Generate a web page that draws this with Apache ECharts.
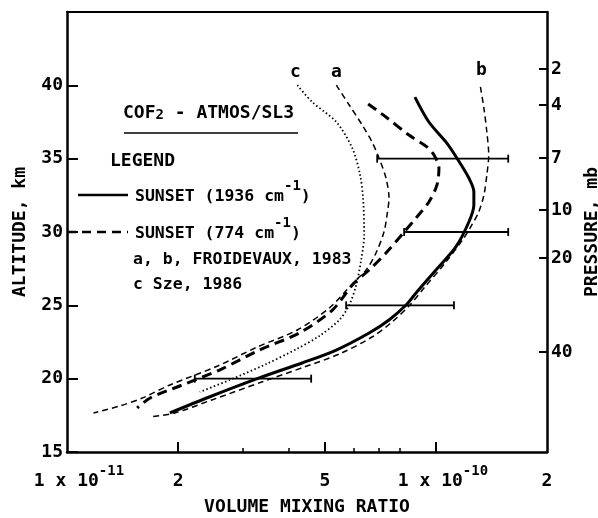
<!DOCTYPE html>
<html>
<head>
<meta charset="utf-8">
<script src="https://cdn.jsdelivr.net/npm/echarts@6/dist/echarts.min.js"></script>
<style>
  html, body { margin: 0; padding: 0; background: #fff; }
  #main { width: 598px; height: 518px; }
</style>
</head>
<body>
<div id="main"></div>
<script>
// mixing ratio in units of 1e-11, altitude in km
var sunset1936 = [[8.77,39.2],[9.57,37.5],[10.64,36.14],[11.39,35.05],[12.28,33.68],[12.67,32.73],[12.67,31.84],[12.28,30.68],[11.32,28.98],[10.0,27.41],[8.83,25.84],[8.30,25.02],[7.46,24.0],[6.59,23.11],[5.37,21.95],[4.34,21.07],[3.32,20.05],[2.43,18.75],[1.90,17.66]];
var sunset774 = [[6.55,38.73],[7.32,37.84],[8.45,36.61],[9.45,35.8],[9.88,35.25],[10.19,34.36],[10.06,33.2],[9.57,32.05],[8.83,30.95],[8.20,30.0],[7.32,28.57],[6.59,27.41],[6.0,26.52],[5.24,24.68],[4.26,23.11],[3.32,21.95],[2.59,20.59],[2.02,19.5],[1.68,18.68],[1.55,18.0]];
var froidA = [[5.37,40.02],[5.82,38.66],[6.31,37.3],[6.71,36.14],[7.01,35.05],[7.32,33.68],[7.46,32.32],[7.37,31.16],[7.23,30.0],[6.88,28.57],[6.47,27.41],[6.0,26.59],[5.14,24.82],[4.21,23.32],[3.28,22.16],[2.56,20.86],[1.90,19.57],[1.60,18.68],[1.39,18.14],[1.18,17.66]];
var froidB = [[13.2,39.89],[13.49,38.45],[13.74,36.82],[13.9,35.25],[13.74,33.89],[13.49,32.52],[13.06,31.36],[12.51,30.48],[11.9,29.59],[10.64,27.95],[9.28,26.18],[8.45,24.95],[7.60,23.86],[6.71,22.84],[5.47,21.68],[4.40,20.8],[3.37,19.77],[2.47,18.55],[1.96,17.66],[1.68,17.39]];
var szeC = [[4.21,40.02],[4.62,38.86],[5.37,37.5],[5.93,35.73],[6.23,33.89],[6.35,32.18],[6.39,29.8],[6.27,28.09],[6.08,26.39],[5.82,25.02],[5.47,24.0],[4.83,22.91],[4.19,22.02],[3.47,21.0],[2.76,19.91],[2.29,19.09]];

var errAlt = [20, 25, 30, 35];
var errLow = [2.22, 5.71, 8.20, 6.93];
var errHigh = [4.59, 11.19, 15.7, 15.7];

var xMajor = [2, 5, 10];
var xMinor = [3, 4, 6, 7, 8];
var xLabels = [1, 2, 5, 10, 20];
var altTicks = [15, 20, 25, 30, 35, 40];
var pressureLabels = ['2', '4', '7', '10', '20', '40'];
var pressureAlt = [41.11, 38.66, 35.05, 31.5, 28.23, 21.82];

var FONT = 'DejaVu Sans Mono';

function lg(arr) { return arr.map(function(v) { return Math.log10(v); }); }
function toXY(pts) { return pts.map(function(p) { return [Math.log10(p[0]), p[1]]; }); }

var myChart = echarts.init(document.getElementById('main'));

function lineSeries(name, pts, width, dash) {
  return {
    name: name,
    type: 'line',
    data: toXY(pts),
    smooth: 0.3,
    showSymbol: false,
    xAxisIndex: 0,
    yAxisIndex: 0,
    lineStyle: { color: '#000', width: width, type: dash },
    z: 5
  };
}

var errData = errAlt.map(function(a, i) { return [a, Math.log10(errLow[i]), Math.log10(errHigh[i])]; });

var txt = { fontFamily: FONT, fontWeight: 'bold', fill: '#000' };
function label(x, y, text, size) {
  return {
    type: 'text', left: x, top: y,
    style: Object.assign({ text: text, fontSize: size }, txt)
  };
}
var supRich = {
  n: { fontFamily: FONT, fontWeight: 'bold', fontSize: 18, lineHeight: 26, verticalAlign: 'bottom' },
  m: { fontFamily: FONT, fontWeight: 'bold', fontSize: 16.5, lineHeight: 26, verticalAlign: 'bottom' },
  s: { fontFamily: FONT, fontWeight: 'bold', fontSize: 14, lineHeight: 14, verticalAlign: 'top' },
  b: { fontFamily: FONT, fontWeight: 'bold', fontSize: 14, lineHeight: 14, verticalAlign: 'bottom' },
  p1: { width: 24 },
  p2: { width: 14 }
};

var frame = { onZero: false, lineStyle: { color: '#000', width: 2.5 } };

option = {
  animation: false,
  backgroundColor: '#fff',
  grid: { left: 67, right: 51, top: 12, bottom: 66, outerBoundsMode: 'none', containLabel: false },
  textStyle: { fontFamily: FONT, fontWeight: 'bold', color: '#000' },
  xAxis: [
    {
      type: 'value', min: 0, max: Math.log10(20), position: 'bottom',
      name: 'VOLUME MIXING RATIO', nameLocation: 'middle', nameGap: 46,
      nameTextStyle: { fontFamily: FONT, fontWeight: 'bold', fontSize: 18, color: '#000' },
      axisLine: frame,
      axisTick: { inside: true, length: 10, customValues: lg(xMajor), lineStyle: { color: '#000', width: 2 } },
      axisLabel: {
        customValues: lg(xLabels), margin: 12, color: '#000',
        formatter: function(v) {
          var n = Math.round(Math.pow(10, v));
          if (n === 1) return '{p1|}{n|1 x 10}{s|-11}';
          if (n === 10) return '{p2|}{n|1 x 10}{s|-10}';
          if (n === 20) return '{n|2}';
          return '{n|' + n + '}';
        },
        rich: supRich
      },
      splitLine: { show: false }
    },
    {
      type: 'value', min: 0, max: Math.log10(20), position: 'bottom',
      axisLine: { show: false, onZero: false },
      axisTick: { inside: true, length: 4, customValues: lg(xMinor), lineStyle: { color: '#000', width: 1.5 } },
      axisLabel: { show: false },
      splitLine: { show: false }
    },
    {
      type: 'value', min: 0, max: Math.log10(20), position: 'top',
      axisLine: { onZero: false, lineStyle: { color: '#000', width: 2 } },
      axisTick: { show: false }, axisLabel: { show: false }, splitLine: { show: false }
    }
  ],
  yAxis: [
    {
      type: 'value', min: 15, max: 45, position: 'left',
      name: 'ALTITUDE, km', nameLocation: 'middle', nameRotate: 90, nameGap: 38,
      nameTextStyle: { fontFamily: FONT, fontWeight: 'bold', fontSize: 18, color: '#000' },
      axisLine: frame,
      axisTick: { inside: true, length: 11, customValues: altTicks, lineStyle: { color: '#000', width: 2 } },
      axisLabel: { customValues: altTicks, margin: 4, color: '#000', fontFamily: FONT, fontWeight: 'bold', fontSize: 18 },
      splitLine: { show: false }
    },
    {
      type: 'value', min: 15, max: 45, position: 'right',
      name: 'PRESSURE, mb', nameLocation: 'middle', nameRotate: 90, nameGap: 27,
      nameTextStyle: { fontFamily: FONT, fontWeight: 'bold', fontSize: 18, color: '#000' },
      axisLine: frame,
      axisTick: { inside: true, length: 8, customValues: pressureAlt, lineStyle: { color: '#000', width: 2 } },
      axisLabel: {
        customValues: pressureAlt, margin: 4, color: '#000', fontFamily: FONT, fontWeight: 'bold', fontSize: 18,
        formatter: function(v) {
          var best = 0;
          for (var i = 1; i < pressureAlt.length; i++) {
            if (Math.abs(pressureAlt[i] - v) < Math.abs(pressureAlt[best] - v)) best = i;
          }
          return pressureLabels[best];
        }
      },
      splitLine: { show: false }
    }
  ],
  series: [
    lineSeries('SUNSET (1936 cm-1)', sunset1936, 3, 'solid'),
    lineSeries('SUNSET (774 cm-1)', sunset774, 3, [10, 6]),
    lineSeries('a', froidA, 1.5, [6, 4]),
    lineSeries('b', froidB, 1.5, [6, 4]),
    lineSeries('c', szeC, 1.8, [1.5, 2.5]),
    {
      type: 'custom',
      data: errData,
      encode: { x: [1, 2], y: 0 },
      renderItem: function(params, api) {
        var a = api.value(0);
        var p1 = api.coord([api.value(1), a]);
        var p2 = api.coord([api.value(2), a]);
        var st = { stroke: '#000', lineWidth: 1.8 };
        return {
          type: 'group',
          children: [
            { type: 'line', shape: { x1: p1[0], y1: p1[1], x2: p2[0], y2: p2[1] }, style: st },
            { type: 'line', shape: { x1: p1[0], y1: p1[1] - 4, x2: p1[0], y2: p1[1] + 4 }, style: st },
            { type: 'line', shape: { x1: p2[0], y1: p2[1] - 4, x2: p2[0], y2: p2[1] + 4 }, style: st }
          ]
        };
      },
      z: 6
    }
  ],
  graphic: [
    label(290, 63, 'c', 18),
    label(331, 63, 'a', 18),
    label(476, 61, 'b', 18),
    {
      type: 'text', left: 123, top: 104,
      style: Object.assign({ text: '{n|COF}{b|2}{n| - ATMOS/SL3}', rich: supRich }, txt)
    },
    { type: 'line', shape: { x1: 124, y1: 133, x2: 298, y2: 133 }, style: { stroke: '#000', lineWidth: 1.5 } },
    label(110, 152, 'LEGEND', 18),
    { type: 'line', shape: { x1: 78, y1: 195, x2: 128, y2: 195 }, style: { stroke: '#000', lineWidth: 2.5 } },
    {
      type: 'text', left: 135, top: 179,
      style: Object.assign({ text: '{m|SUNSET (1936 cm}{s|-1}{m|)}', rich: supRich }, txt)
    },
    { type: 'line', shape: { x1: 67, y1: 232, x2: 128, y2: 232 }, style: { stroke: '#000', lineWidth: 2.5, lineDash: [9, 6] } },
    {
      type: 'text', left: 135, top: 216,
      style: Object.assign({ text: '{m|SUNSET (774 cm}{s|-1}{m|)}', rich: supRich }, txt)
    },
    label(133, 251, 'a, b, FROIDEVAUX, 1983', 16.5),
    label(133, 276, 'c Sze, 1986', 16.5)
  ]
};

myChart.setOption(option);
</script>
</body>
</html>
